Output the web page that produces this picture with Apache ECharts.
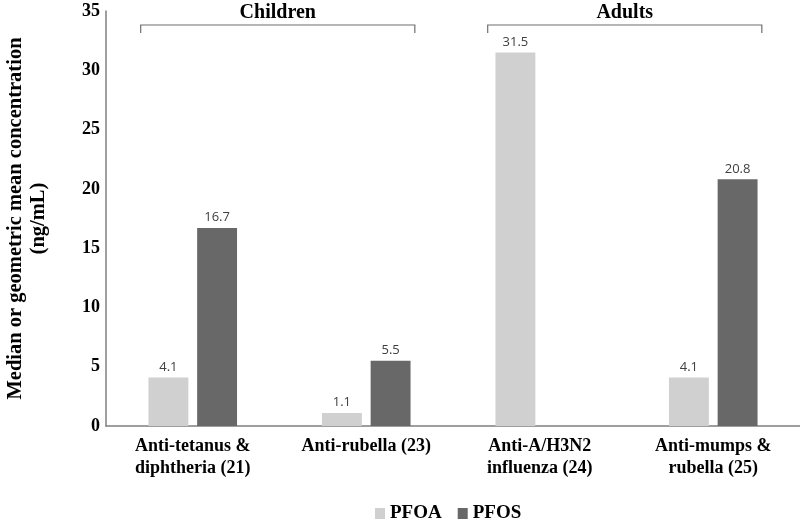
<!DOCTYPE html>
<html>
<head>
<meta charset="utf-8">
<script src="https://cdn.jsdelivr.net/npm/echarts@6/dist/echarts.min.js"></script>
<style>html,body{margin:0;padding:0;background:#fff}#c{width:800px;height:521px}</style>
</head>
<body>
<div id="c"></div>
<script>
const categories = ['Anti-tetanus &\ndiphtheria (21)', 'Anti-rubella (23)', 'Anti-A/H3N2\ninfluenza (24)', 'Anti-mumps &\nrubella (25)'];
const pfoa = [4.1, 1.1, 31.5, 4.1];
const pfos = [16.7, 5.5, null, 20.8];
const yTicks = [0, 5, 10, 15, 20, 25, 30, 35];
const groups = [{name: 'Children', from: 0, to: 1}, {name: 'Adults', from: 2, to: 3}];

const serif = '"Liberation Serif", "Times New Roman", serif';
const chart = echarts.init(document.getElementById('c'), null, {renderer: 'canvas'});
const labelStyle = {show: true, position: 'top', distance: 4, fontFamily: '"Open Sans", sans-serif', fontSize: 13, color: '#404040'};
chart.setOption({
  animation: false,
  grid: {left: 106, right: 0, top: 11, bottom: 95, containLabel: false, outerBoundsMode: 'none'},
  legend: {
    data: ['PFOA', 'PFOS'], left: 370, top: 499, itemWidth: 10, itemHeight: 11, itemGap: 16,
    icon: 'rect',
    textStyle: {fontFamily: serif, fontWeight: 'bold', fontSize: 19, color: '#000'}
  },
  xAxis: {
    type: 'category', data: categories,
    axisLine: {lineStyle: {color: '#7f7f7f', width: 1.5}}, axisTick: {show: false},
    axisLabel: {fontFamily: serif, fontWeight: 'bold', fontSize: 18, color: '#000', lineHeight: 22, margin: 9}
  },
  yAxis: {
    type: 'value', min: 0, max: yTicks[yTicks.length - 1], interval: 5,
    name: 'Median or geometric mean concentration\n(ng/mL)', nameLocation: 'middle', nameGap: 56,
    nameTextStyle: {fontFamily: serif, fontWeight: 'bold', fontSize: 20.5, color: '#000', lineHeight: 23},
    axisLine: {show: true, lineStyle: {color: '#7f7f7f', width: 1.5}}, axisTick: {show: false},
    splitLine: {show: false},
    axisLabel: {fontFamily: serif, fontWeight: 'bold', fontSize: 18, color: '#000', margin: 6}
  },
  series: [
    {name: 'PFOA', type: 'bar', data: pfoa, barWidth: '23%', barGap: '22%', itemStyle: {color: '#d0d0d0'}, label: labelStyle},
    {name: 'PFOS', type: 'bar', data: pfos, barWidth: '23%', barGap: '22%', itemStyle: {color: '#686868'}, label: labelStyle}
  ]
});

function drawBrackets() {
  const c0 = chart.convertToPixel({xAxisIndex: 0}, 0);
  const c1 = chart.convertToPixel({xAxisIndex: 0}, 1);
  const band = c1 - c0;
  const yTop = 25, yBot = 33;
  const elements = [];
  groups.forEach(g => {
    const x1 = chart.convertToPixel({xAxisIndex: 0}, g.from) - 0.3 * band;
    const x2 = chart.convertToPixel({xAxisIndex: 0}, g.to) + 0.28 * band;
    elements.push({
      type: 'polyline', silent: true,
      shape: {points: [[x1, yBot], [x1, yTop], [x2, yTop], [x2, yBot]]},
      style: {stroke: '#6f6f6f', lineWidth: 1.2, fill: null}
    });
    elements.push({
      type: 'text', silent: true, x: (x1 + x2) / 2, y: 13,
      style: {text: g.name, fontFamily: serif, fontWeight: 'bold', fontSize: 20, fill: '#000', align: 'center', verticalAlign: 'middle'}
    });
  });
  chart.setOption({graphic: elements});
}
drawBrackets();
</script>
</body>
</html>
